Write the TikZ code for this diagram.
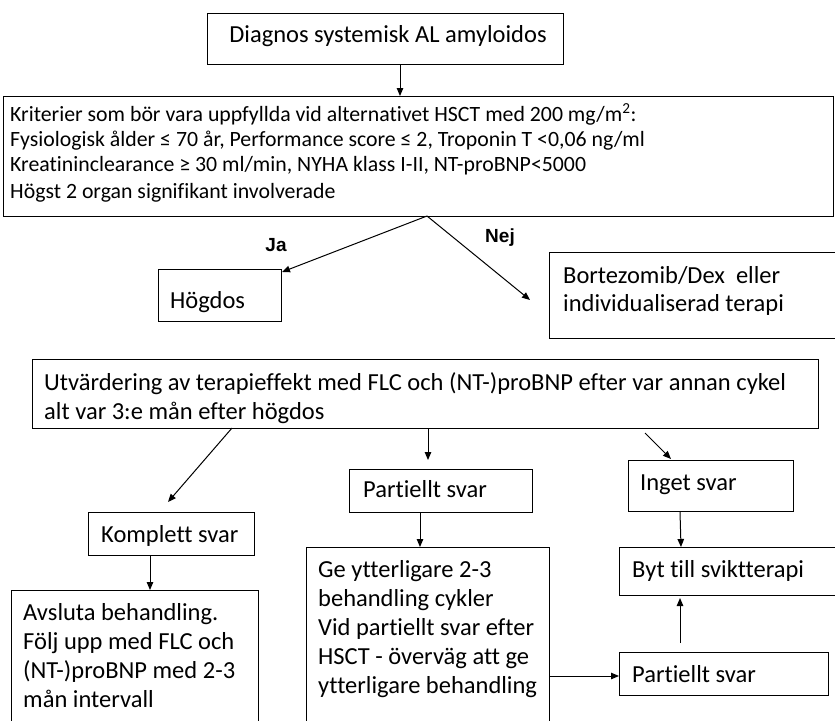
\documentclass[tikz,border=0pt]{standalone}
\usepackage{fontspec}
\setmainfont{Carlito}[Ligatures={NoCommon}]
\newfontfamily\labelfont{Liberation Sans}
\usetikzlibrary{arrows.meta}
\begin{document}
\begin{tikzpicture}[x=1pt,y=-1pt,
  box/.style={draw, line width=1pt, inner sep=0pt, anchor=north west},
  arr/.style={-{Triangle[length=8pt,width=6.5pt]}, line width=1pt},
  big/.style={anchor=base west, inner sep=0pt, font=\fontsize{24.5}{29}\selectfont},
  crit/.style={anchor=base west, inner sep=0pt, font=\fontsize{21.8}{25}\selectfont},
  lbl/.style={inner sep=0pt, font=\labelfont\bfseries\fontsize{19}{22}\selectfont}]
\useasboundingbox (0,0) rectangle (835,720);

% boxes
\node[box, minimum width=356pt, minimum height=51pt] (diag) at (207,13) {};
\node[box, minimum width=830pt, minimum height=120pt] (krit) at (3,96) {};
\node[box, minimum width=123pt, minimum height=52pt] (hog) at (158,269) {};
\node[box, minimum width=290pt, minimum height=86pt] (bort) at (549,252) {};
\node[box, minimum width=786pt, minimum height=69pt] (utv) at (32,359) {};
\node[box, minimum width=166pt, minimum height=43pt] (kompl) at (88,512) {};
\node[box, minimum width=247pt, minimum height=140pt] (avsl) at (11,590) {};
\node[box, minimum width=183pt, minimum height=43pt] (part) at (349,469) {};
\node[box, minimum width=243pt, minimum height=180pt] (ge) at (306,547) {};
\node[box, minimum width=165pt, minimum height=51pt] (inget) at (628,460) {};
\node[box, minimum width=220pt, minimum height=48pt] (byt) at (619,547) {};
\node[box, minimum width=209pt, minimum height=43pt] (part2) at (619,652) {};

% texts
\node[big, anchor=base] (tdiag) at (388,42) {Diagnos systemisk AL amyloidos};
\node[crit] (k1) at (10,121) {Kriterier som bör vara uppfyllda vid alternativet HSCT med 200 mg/m\textsuperscript{2}:};
\node[crit] (k2) at (10,146) {Fysiologisk ålder ≤ 70 år, Performance score ≤ 2, Troponin T <0,06 ng/ml};
\node[crit] (k3) at (10,171) {Kreatininclearance ≥ 30 ml/min, NYHA klass I-II, NT-proBNP<5000};
\node[crit] (k4) at (10,198) {Högst 2 organ signifikant involverade};
\node[big] (thog) at (170,308) {Högdos};
\node[big] (tb1) at (563,283) {Bortezomib/Dex\ \ eller};
\node[big] (tb2) at (563,311) {individualiserad terapi};
\node[big] (tu1) at (44,390) {Utvärdering av terapieffekt med FLC och (NT-)proBNP efter var annan cykel};
\node[big] (tu2) at (44,419) {alt var 3:e mån efter högdos};
\node[big] (tk) at (101,542) {Komplett svar};
\node[big] (ta1) at (23,620) {Avsluta behandling.};
\node[big] (ta2) at (23,649) {Följ upp med FLC och};
\node[big] (ta3) at (23,678) {(NT-)proBNP med 2-3};
\node[big] (ta4) at (23,707) {mån intervall};
\node[big] (tp) at (363,497) {Partiellt svar};
\node[big] (tg1) at (318,577) {Ge ytterligare 2-3};
\node[big] (tg2) at (318,606) {behandling cykler};
\node[big] (tg3) at (318,635) {Vid partiellt svar efter};
\node[big] (tg4) at (318,664) {HSCT - överväg att ge};
\node[big] (tg5) at (318,693) {ytterligare behandling};
\node[big] (ti) at (640,490) {Inget svar};
\node[big] (tby) at (632,577) {Byt till sviktterapi};
\node[big] (tp2) at (632,682) {Partiellt svar};

\node[lbl] (ja) at (276,245) {Ja};
\node[lbl] (nej) at (500,238) {Nej};

% connector ends
\coordinate (apex) at (427,216);
\coordinate (jaend) at (282,272);
\coordinate (nejend) at (530,300);
\coordinate (ua) at (232,428);
\coordinate (ub) at (168,502);
\coordinate (pend) at (428,460);
\coordinate (ic1) at (645,433);
\coordinate (ic2) at (671,459);
\coordinate (upstart) at (680,643);
\coordinate (upend) at (680,598);

\draw[arr] (diag.south -| 400,0) -- (krit.north -| 400,0);
\draw[arr] (apex) -- (jaend);
\draw[arr] (apex) -- (nejend);
\draw[arr] (ua) -- (ub);
\draw[arr] (utv.south -| pend) -- (pend);
\draw[arr] (ic1) -- (ic2);
\draw[arr] (kompl.south -| 150,0) -- (avsl.north -| 150,0);
\draw[arr] (part.south -| 420,0) -- (ge.north -| 420,0);
\draw[arr] (inget.south -| 680,0) -- (byt.north -| 681,0);
\draw[arr] (upstart) -- (upend);
\draw[arr] (ge.east |- 0,676) -- (part2.west |- 0,676);
\end{tikzpicture}
\end{document}
